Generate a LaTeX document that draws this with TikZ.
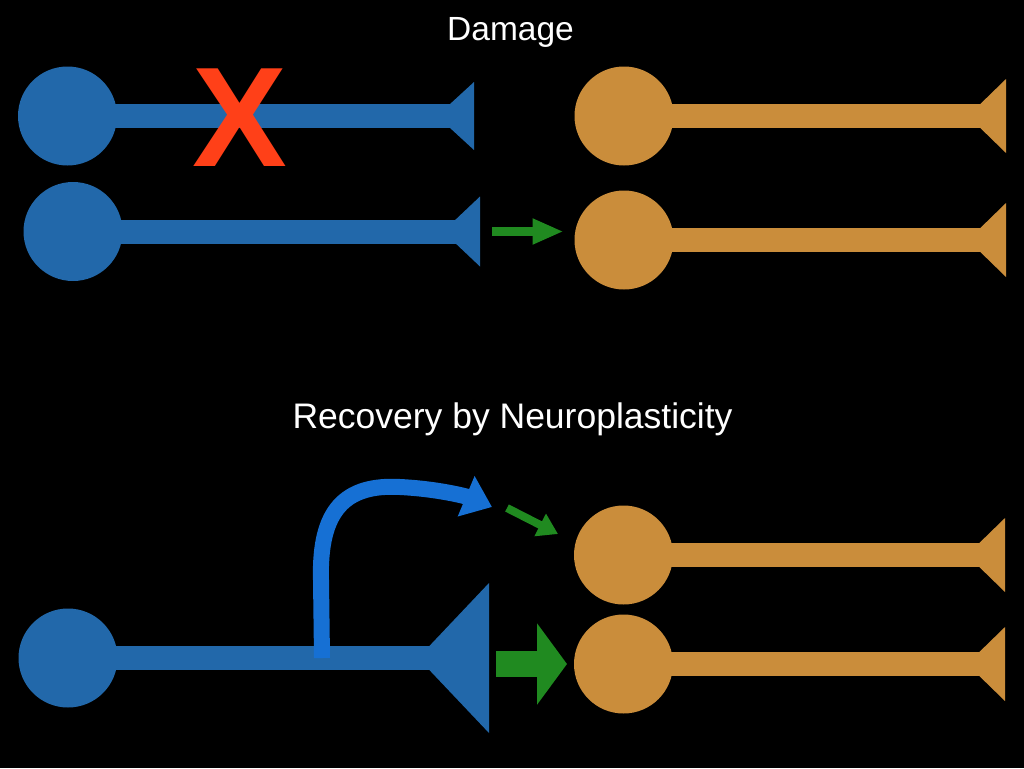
\documentclass[tikz,border=0pt]{standalone}
\usepackage{fontspec}
\setmainfont{Liberation Sans}
\usetikzlibrary{arrows.meta}

\definecolor{nblue}{RGB}{34,104,170}
\definecolor{norange}{RGB}{202,141,59}
\definecolor{sproutblue}{RGB}{22,112,212}
\definecolor{nred}{RGB}{255,64,24}
\definecolor{ngreen}{RGB}{32,138,32}

\begin{document}
\begin{tikzpicture}[x=1pt,y=-1pt,
    soma/.style={circle, fill=#1, inner sep=0pt, outer sep=0pt, minimum size=99pt},
    axon/.style={draw=#1, line width=24pt},
    title/.style={text=white, font=\fontsize{#1}{40}\selectfont, anchor=base}]

    % Background
    \fill[black] (0,0) rectangle (1024,768);

    % Titles
    \node[title=33.5] (damage) at (510.5,41) {Damage};
    \node[title=35.5] (recovery) at (512.5,428) {Recovery by Neuroplasticity};

    % Neurons: soma, axon and terminal
    \foreach \nm/\sx/\sy/\ex/\h/\d/\col in {
        b1/67.5/116/474/34/37/nblue, b2/73/231.5/480/35/37/nblue, b3/68/658/489/75/71/nblue,
        o1/624/116/1006/37/38/norange, o2/624/240/1006/37/38/norange,
        o3/623.5/555/1005/37/38/norange, o4/623.5/664/1005/37/38/norange} {
        \node[soma=\col] (\nm) at (\sx,\sy) {};
        \coordinate (\nm end) at (\ex,\sy);
        \draw[axon=\col] (\nm.center) -- (\nm end);
        \fill[\col] (\nm end) ++(0,-\h) -- ++(0,2*\h) -- ++(-\d,-\h) -- cycle;
    }

    % Damaged axon
    \node[text=nred, font=\fontsize{142}{142}\selectfont\bfseries] (cut) at (239.5,118) {X};

    % Remaining signal
    \draw[ngreen, line width=9pt, -{Triangle[length=31pt,width=24pt]},
        shorten <=12pt, shorten >=11pt] (b2end) -- (b2end -| o2.west);

    % New branch of the axon
    \coordinate (branch) at (322,658);
    \coordinate (sprouttip) at (492,507);
    \draw[sproutblue, line width=16pt, -{Triangle[length=28pt,width=42pt]}]
        (branch) -- (321,580) .. controls (319,510) and (345,484) .. (400,487)
        .. controls (440,489) and (468,497) .. (sprouttip);

    \coordinate (o3in) at (558,534);
    \draw[ngreen, line width=8pt, -{Triangle[length=20pt,width=24pt]}]
        ([shift={(15,1)}]sprouttip) -- (o3in);

    % Stronger signal
    \draw[ngreen, line width=26pt, -{Triangle[length=30pt,width=80pt]},
        shorten <=7pt, shorten >=7pt] (b3end |- o4) -- (o4.west);

\end{tikzpicture}
\end{document}
